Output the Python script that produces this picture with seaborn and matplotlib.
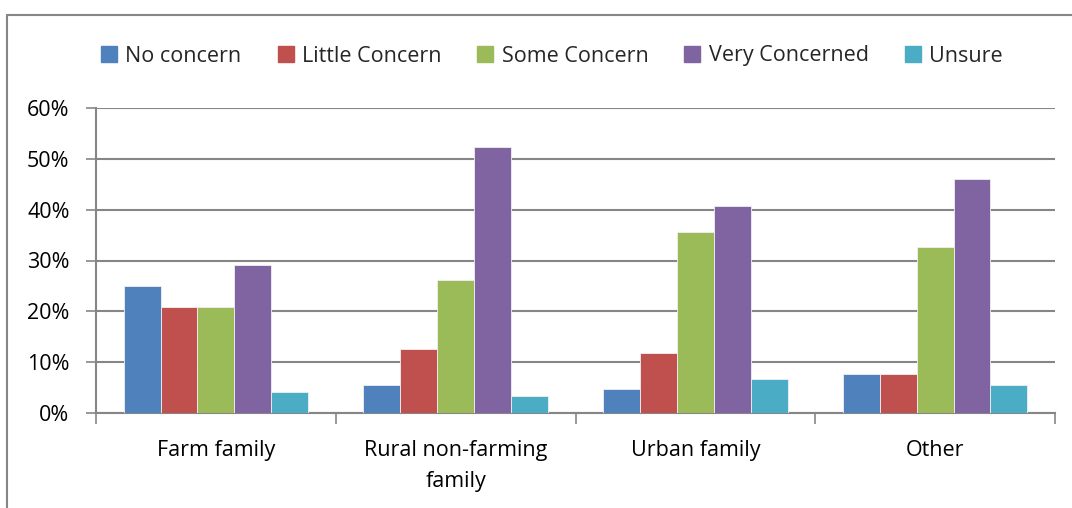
import matplotlib
matplotlib.use("Agg")
import matplotlib.pyplot as plt
import seaborn as sns
import pandas as pd
from matplotlib.patches import Rectangle
from matplotlib.ticker import PercentFormatter, FixedLocator

categories = ["Farm family", "Rural non-farming\nfamily", "Urban family", "Other"]
series = ["No concern", "Little Concern", "Some Concern", "Very Concerned", "Unsure"]
no_concern = [25.0, 5.6, 4.8, 7.6]
little_concern = [20.8, 12.5, 11.8, 7.6]
some_concern = [20.8, 26.1, 35.7, 32.7]
very_concerned = [29.1, 52.3, 40.8, 46.1]
unsure = [4.1, 3.4, 6.7, 5.6]
colors = ["#4F81BD", "#C0504D", "#9BBB59", "#8064A2", "#4BACC6"]

values = [no_concern, little_concern, some_concern, very_concerned, unsure]
rows = []
for s, vals in zip(series, values):
    for c, v in zip(categories, vals):
        rows.append({"Category": c, "Series": s, "Value": v})
df = pd.DataFrame(rows)

sns.set_style("white")
plt.rcParams["font.family"] = ["Open Sans", "DejaVu Sans"]

FS = 15.5

fig = plt.figure(figsize=(10.72, 5.08), dpi=100)
ax = fig.add_axes([96 / 1072, 1 - 413 / 508, (1055 - 96) / 1072, (413 - 108) / 508])

sns.barplot(data=df, x="Category", y="Value", hue="Series", order=categories,
            hue_order=series, palette=colors, saturation=1, width=0.769, dodge=True,
            edgecolor="#f0f0f0", linewidth=0.6, ax=ax, legend=False, zorder=3)

ax.set_ylim(0, 60)
ax.set_xlim(-0.5, len(categories) - 0.5)
ax.yaxis.set_major_formatter(PercentFormatter(decimals=0))
ax.set_yticks([0, 10, 20, 30, 40, 50, 60])
ax.yaxis.grid(True, color="#868686", linewidth=1.5, zorder=0)
ax.set_axisbelow(True)
ax.set_xlabel("")
ax.set_ylabel("")

for side in ["top", "right"]:
    ax.spines[side].set_visible(False)
for side in ["left", "bottom"]:
    ax.spines[side].set_color("#868686")
    ax.spines[side].set_linewidth(1.5)

ax.tick_params(axis="y", which="major", left=True, length=7, width=1.2, color="#868686",
               labelsize=FS, pad=12, labelcolor="#000000")
ax.tick_params(axis="x", which="major", bottom=False, labelsize=FS, pad=16,
               labelcolor="#000000")
for lab in ax.get_xticklabels():
    lab.set_linespacing(1.6)
ax.xaxis.set_minor_locator(FixedLocator([i - 0.5 for i in range(len(categories) + 1)]))
ax.tick_params(axis="x", which="minor", bottom=True, length=8, width=1.2, color="#868686")

handles = [plt.Line2D([0], [0], marker="s", linestyle="", markersize=12,
                      markerfacecolor=c, markeredgecolor=c) for c in colors]
fig.legend(handles, series, loc="center", bbox_to_anchor=(551 / 1072, 1 - 56 / 508),
           ncol=5, frameon=False, fontsize=FS, handletextpad=0.3,
           columnspacing=1.6, handlelength=0.9)

fig.patches.append(Rectangle((7 / 1072, -0.1), 1.2, 1.1 - 15 / 508,
                             transform=fig.transFigure, fill=False,
                             edgecolor="#868686", linewidth=1.5))

fig.savefig("out.png", dpi=100)
